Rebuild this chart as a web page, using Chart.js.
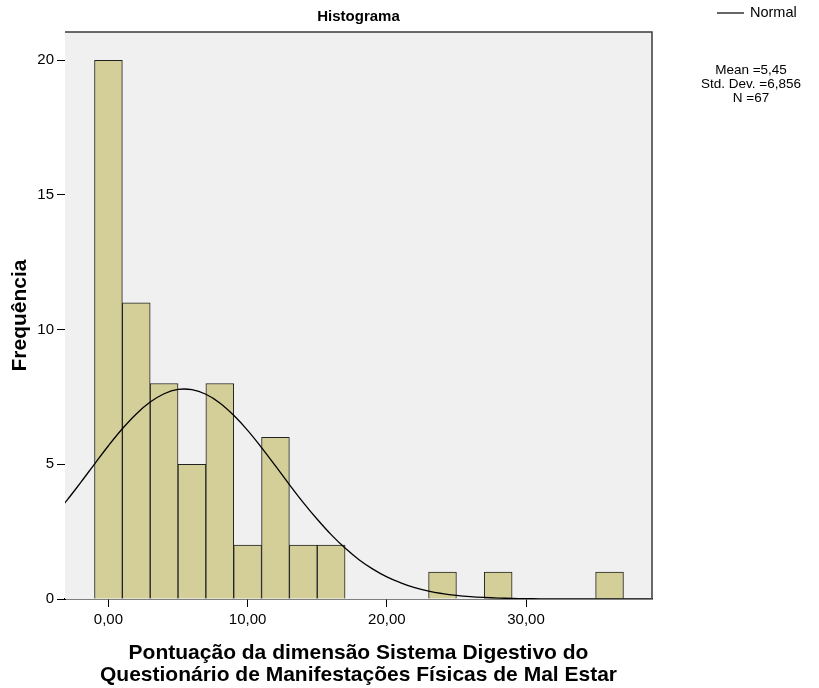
<!DOCTYPE html>
<html>
<head>
<meta charset="utf-8">
<title>Histograma</title>
<script src="https://cdn.jsdelivr.net/npm/chart.js@4.4.1/dist/chart.umd.min.js"></script>
<style>
  html, body { margin: 0; padding: 0; background: #fff; }
  #chart { display: block; }
</style>
</head>
<body>
<canvas id="chart" width="819" height="688"></canvas>
<script>
// --- Data ---
const binCenters = [0, 2, 4, 6, 8, 10, 12, 14, 16, 18, 20, 22, 24, 26, 28, 30, 32, 34, 36];
const binCounts = [20, 11, 8, 5, 8, 2, 6, 2, 2, 0, 0, 0, 1, 0, 1, 0, 0, 0, 1];

// normal curve as seen on the chart (frequency scale)
const curveX = [-4, -3, -2, -1, 0, 1, 2, 3, 4, 5, 6, 7, 8, 9, 10, 11, 12, 13, 14, 15, 16,
  17, 18, 19, 20, 21, 22, 23, 24, 25, 26, 27, 28, 29, 30, 31, 32, 33, 34, 35, 36, 37, 38, 39];
const curveY = [3.02, 3.65, 4.32, 5.01, 5.69, 6.32, 6.87, 7.31, 7.62, 7.78, 7.77, 7.60, 7.28,
  6.82, 6.26, 5.62, 4.94, 4.25, 3.58, 2.96, 2.39, 1.89, 1.46, 1.11, 0.82, 0.60, 0.42, 0.29,
  0.20, 0.134, 0.087, 0.056, 0.035, 0.021, 0.013, 0.007, 0.004, 0.002, 0.001, 0, 0, 0, 0, 0];

const yTicks = [0, 5, 10, 15, 20];
const xTicks = [0, 10, 20, 30];

const chartTitle = "Histograma";
const xTitleLines = [
  "Pontuação da dimensão Sistema Digestivo do",
  "Questionário de Manifestações Físicas de Mal Estar"
];
const yTitle = "Frequência";
const legendLabel = "Normal";
const statLines = ["Mean =5,45", "Std. Dev. =6,856", "N =67"];

const FONT = '"Liberation Sans", Arial, Helvetica, sans-serif';

// --- Build datasets ---
const barData = binCenters
  .map((x, i) => ({ x: x, y: binCounts[i] }))
  .filter((p) => p.y > 0);
const curveData = curveX.map((x, i) => ({ x: x, y: curveY[i] }));

// background, frame and text
const decorations = {
  id: "decorations",
  beforeDatasetsDraw(chart) {
    const { ctx, chartArea: a } = chart;
    ctx.save();
    ctx.fillStyle = "#f0f0f0";
    ctx.fillRect(a.left, a.top, a.right - a.left, a.bottom - a.top);
    ctx.restore();
  },
  afterDraw(chart) {
    const { ctx, chartArea: a } = chart;
    ctx.save();
    // top and right frame
    ctx.strokeStyle = "#3a3a3a";
    ctx.lineWidth = 1.5;
    ctx.beginPath();
    ctx.moveTo(a.left, a.top);
    ctx.lineTo(a.right, a.top);
    ctx.lineTo(a.right, a.bottom);
    ctx.stroke();

    ctx.fillStyle = "#000";
    ctx.textAlign = "center";
    ctx.textBaseline = "middle";

    // title
    ctx.font = "bold 15px " + FONT;
    ctx.fillText(chartTitle, (a.left + a.right) / 2, 17);

    // x axis title
    ctx.font = "bold 21px " + FONT;
    ctx.fillText(xTitleLines[0], (a.left + a.right) / 2, 653);
    ctx.fillText(xTitleLines[1], (a.left + a.right) / 2, 675);

    // y axis title
    ctx.save();
    ctx.translate(20, (a.top + a.bottom) / 2);
    ctx.rotate(-Math.PI / 2);
    ctx.fillText(yTitle, 0, 0);
    ctx.restore();

    // legend
    ctx.strokeStyle = "#000";
    ctx.lineWidth = 1.2;
    ctx.beginPath();
    ctx.moveTo(717, 13);
    ctx.lineTo(744, 13);
    ctx.stroke();
    ctx.textAlign = "left";
    ctx.font = "14.5px " + FONT;
    ctx.fillText(legendLabel, 750, 13);

    // stats
    ctx.textAlign = "center";
    ctx.font = "13.5px " + FONT;
    statLines.forEach((s, i) => ctx.fillText(s, 751, 70 + i * 14));
    ctx.restore();
  }
};

new Chart(document.getElementById("chart"), {
  type: "bar",
  data: {
    datasets: [
      {
        type: "line",
        label: legendLabel,
        data: curveData,
        borderColor: "#000",
        borderWidth: 1.3,
        pointRadius: 0,
        tension: 0.4,
        fill: false,
        order: 0
      },
      {
        type: "bar",
        label: "Frequência",
        data: barData,
        backgroundColor: "#d4cf98",
        borderColor: "#222",
        borderWidth: 1,
        barPercentage: 1,
        categoryPercentage: 1,
        grouped: false,
        order: 1
      }
    ]
  },
  options: {
    responsive: false,
    animation: false,
    layout: { padding: { left: 0, top: 32, right: 167, bottom: 59 } },
    plugins: {
      legend: { display: false },
      tooltip: { enabled: false },
      title: { display: false }
    },
    scales: {
      x: {
        type: "linear",
        min: -3.12,
        max: 39.05,
        offset: false,
        afterFit: (scale) => { scale.height = 30; },
        afterBuildTicks: (scale) => { scale.ticks = xTicks.map((v) => ({ value: v })); },
        grid: { offset: false, drawOnChartArea: false, drawTicks: true, tickLength: 8, color: "#000", lineWidth: 1 },
        border: { display: true, color: "#000", width: 1.5 },
        ticks: {
          color: "#000",
          font: { family: FONT, size: 15 },
          padding: 4,
          maxRotation: 0,
          callback: (v) => v.toFixed(2).replace(".", ",")
        }
      },
      y: {
        type: "linear",
        min: 0,
        max: 21.05,
        afterFit: (scale) => { scale.width = 65; },
        afterBuildTicks: (scale) => { scale.ticks = yTicks.map((v) => ({ value: v })); },
        grid: { drawOnChartArea: false, drawTicks: true, tickLength: 8, color: "#000", lineWidth: 1 },
        border: { display: true, color: "#000", width: 1 },
        ticks: {
          color: "#000",
          font: { family: FONT, size: 15 },
          padding: 3
        }
      }
    }
  },
  plugins: [decorations]
});
</script>
</body>
</html>
